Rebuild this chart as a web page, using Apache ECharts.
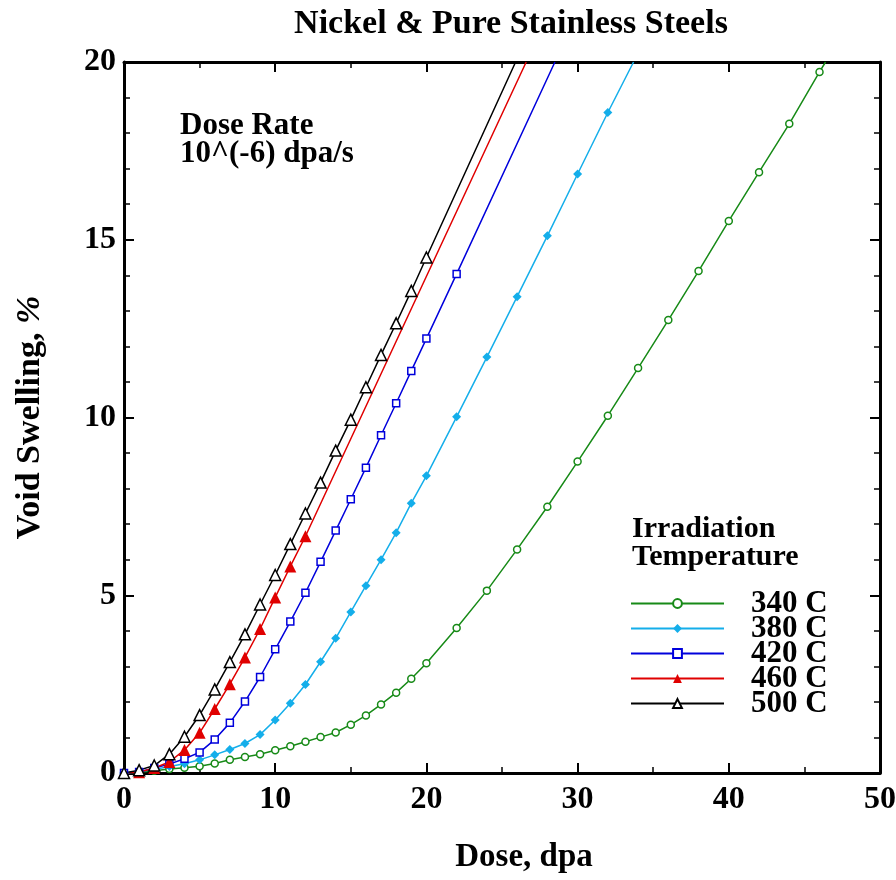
<!DOCTYPE html>
<html>
<head>
<meta charset="utf-8">
<script src="https://cdn.jsdelivr.net/npm/echarts@6/dist/echarts.min.js"></script>
<style>
html, body { margin: 0; background: #fff; }
#chart { width: 896px; height: 880px; }
</style>
</head>
<body>
<div id="chart"></div>
<script>
"use strict";

// dose (dpa) / swelling (%); *_END = where the line leaves the top edge
const DOSE_340 = [0, 1, 2, 3, 4, 5, 6, 7, 8, 9, 10, 11, 12, 13, 14, 15, 16, 17, 18, 19, 20,
  22, 24, 26, 28, 30, 32, 34, 36, 38, 40, 42, 44, 46];
const SW_340 = [0, 0.02, 0.06, 0.11, 0.15, 0.19, 0.27, 0.37, 0.45, 0.53, 0.64, 0.75, 0.88, 1.01, 1.14,
  1.36, 1.62, 1.93, 2.26, 2.65, 3.09, 4.08, 5.13, 6.29, 7.49, 8.76, 10.05, 11.39, 12.74, 14.12,
  15.53, 16.9, 18.26, 19.72];
const END_340 = [46.4, 20];

const DOSE_380 = [0, 1, 2, 3, 4, 5, 6, 7, 8, 9, 10, 11, 12, 13, 14, 15, 16, 17, 18, 19, 20,
  22, 24, 26, 28, 30, 32];
const SW_380 = [0, 0.04, 0.1, 0.18, 0.26, 0.37, 0.51, 0.66, 0.83, 1.08, 1.49, 1.96, 2.49, 3.13, 3.79,
  4.53, 5.27, 6.0, 6.76, 7.59, 8.36, 10.02, 11.7, 13.4, 15.11, 16.85, 18.58];
const END_380 = [33.7, 20];

const DOSE_420 = [0, 1, 2, 3, 4, 5, 6, 7, 8, 9, 10, 11, 12, 13, 14, 15, 16, 17, 18, 19, 20, 22];
const SW_420 = [0, 0.03, 0.14, 0.25, 0.4, 0.58, 0.94, 1.41, 2.01, 2.7, 3.48, 4.26, 5.07, 5.94, 6.82,
  7.7, 8.59, 9.5, 10.4, 11.31, 12.22, 14.04];
const END_420 = [28.5, 20];

const DOSE_460 = [0, 1, 2, 3, 4, 5, 6, 7, 8, 9, 10, 11, 12];
const SW_460 = [0, 0.02, 0.14, 0.31, 0.65, 1.13, 1.8, 2.5, 3.25, 4.05, 4.94, 5.81, 6.66];
const END_460 = [26.6, 20];

const DOSE_500 = [0, 1, 2, 3, 4, 5, 6, 7, 8, 9, 10, 11, 12, 13, 14, 15, 16, 17, 18, 19, 20];
const SW_500 = [0, 0.08, 0.21, 0.53, 1.02, 1.63, 2.35, 3.12, 3.9, 4.74, 5.57, 6.44, 7.3, 8.17, 9.07,
  9.94, 10.85, 11.76, 12.65, 13.56, 14.5];
const END_500 = [25.9, 20];

const TEMPS = ["340 C", "380 C", "420 C", "460 C", "500 C"];
const X_TICKS = [0, 10, 20, 30, 40, 50];
const Y_TICKS = [0, 5, 10, 15, 20];

const FONT = "'Liberation Serif', 'DejaVu Serif', serif";

function pts(dose, sw, end) {
  const d = dose.map((x, i) => [x, sw[i]]);
  d.push({ value: end, symbol: "none" });
  return d;
}

function curve(name, color, symbol, size, hollow, data) {
  return {
    name, type: "line", data, symbol, symbolSize: size, showAllSymbol: true,
    clip: true, z: 3,
    lineStyle: { color, width: 1.5 },
    itemStyle: hollow ? { color: "#fff", borderColor: color, borderWidth: 1.5 }
                      : { color, borderColor: color, borderWidth: 0 },
    emphasis: { disabled: true },
  };
}

function frameAxis(extra) {
  return Object.assign({
    type: "value",
    axisLine: { show: true, onZero: false, lineStyle: { color: "#000", width: 3 } },
    axisTick: { show: true, inside: true, length: 10, lineStyle: { color: "#000", width: 2 } },
    splitLine: { show: false },
    minorSplitLine: { show: false },
  }, extra);
}

function minor(n) {
  return { show: true, splitNumber: n, length: 6, lineStyle: { color: "#000", width: 1.5 } };
}

const labelStyle = { fontFamily: FONT, fontWeight: "bold", fontSize: 32, color: "#000" };

const chart = echarts.init(document.getElementById("chart"), null, { renderer: "canvas" });
chart.setOption({
  backgroundColor: "#fff",
  animation: false,
  title: {
    text: "Nickel & Pure Stainless Steels",
    left: 506, top: 2, textAlign: "center",
    textStyle: { fontFamily: FONT, fontWeight: "bold", fontSize: 34, color: "#000" },
  },
  grid: { left: 124, right: 16, top: 62, bottom: 107, containLabel: false, outerBoundsMode: "none" },
  xAxis: [
    frameAxis({
      min: X_TICKS[0], max: X_TICKS[X_TICKS.length - 1], interval: 10, position: "bottom",
      minorTick: minor(2),
      axisLabel: Object.assign({ margin: 11 }, labelStyle),
      name: "Dose, dpa", nameLocation: "middle", nameGap: 68,
      nameTextStyle: Object.assign({}, labelStyle, { fontSize: 33, padding: [0, 0, 0, 44] }),
    }),
    frameAxis({
      min: X_TICKS[0], max: X_TICKS[X_TICKS.length - 1], interval: 10, position: "top",
      minorTick: minor(2),
      axisLabel: { show: false },
    }),
  ],
  yAxis: [
    frameAxis({
      min: Y_TICKS[0], max: Y_TICKS[Y_TICKS.length - 1], interval: 5, position: "left",
      minorTick: minor(5),
      axisLabel: Object.assign({ margin: 8 }, labelStyle),
      name: "Void Swelling, {i|%}", nameLocation: "middle", nameGap: 77,
      nameTextStyle: Object.assign({}, labelStyle, {
        fontSize: 34,
        rich: { i: { fontFamily: FONT, fontWeight: "bold", fontStyle: "italic", fontSize: 34 } },
      }),
    }),
    frameAxis({
      min: Y_TICKS[0], max: Y_TICKS[Y_TICKS.length - 1], interval: 5, position: "right",
      minorTick: minor(5),
      axisLabel: { show: false },
    }),
  ],
  legend: {
    orient: "vertical", left: 625, top: 583,
    itemWidth: 93, itemHeight: 11, itemGap: -6,
    data: TEMPS,
    selectedMode: false,
    textStyle: { fontFamily: FONT, fontWeight: "bold", fontSize: 31, color: "#000",
                 padding: [0, 0, 0, 22] },
  },
  graphic: [
    { type: "text", left: 632, top: 514,
      style: { text: "Irradiation\nTemperature", font: "bold 30px " + FONT, fill: "#000", lineHeight: 28 } },
    { type: "text", left: 180, top: 110,
      style: { text: "Dose Rate\n10^(-6) dpa/s", font: "bold 31px " + FONT, fill: "#000", lineHeight: 28 } },
  ],
  series: [
    curve(TEMPS[0], "#178a17", "circle", 7, true, pts(DOSE_340, SW_340, END_340)),
    curve(TEMPS[1], "#14aeea", "diamond", 9, false, pts(DOSE_380, SW_380, END_380)),
    curve(TEMPS[2], "#0000dc", "rect", 7, true, pts(DOSE_420, SW_420, END_420)),
    curve(TEMPS[3], "#e00000", "triangle", 12, false, pts(DOSE_460, SW_460, END_460)),
    curve(TEMPS[4], "#000000", "triangle", 11, true, pts(DOSE_500, SW_500, END_500)),
  ],
});
</script>
</body>
</html>
